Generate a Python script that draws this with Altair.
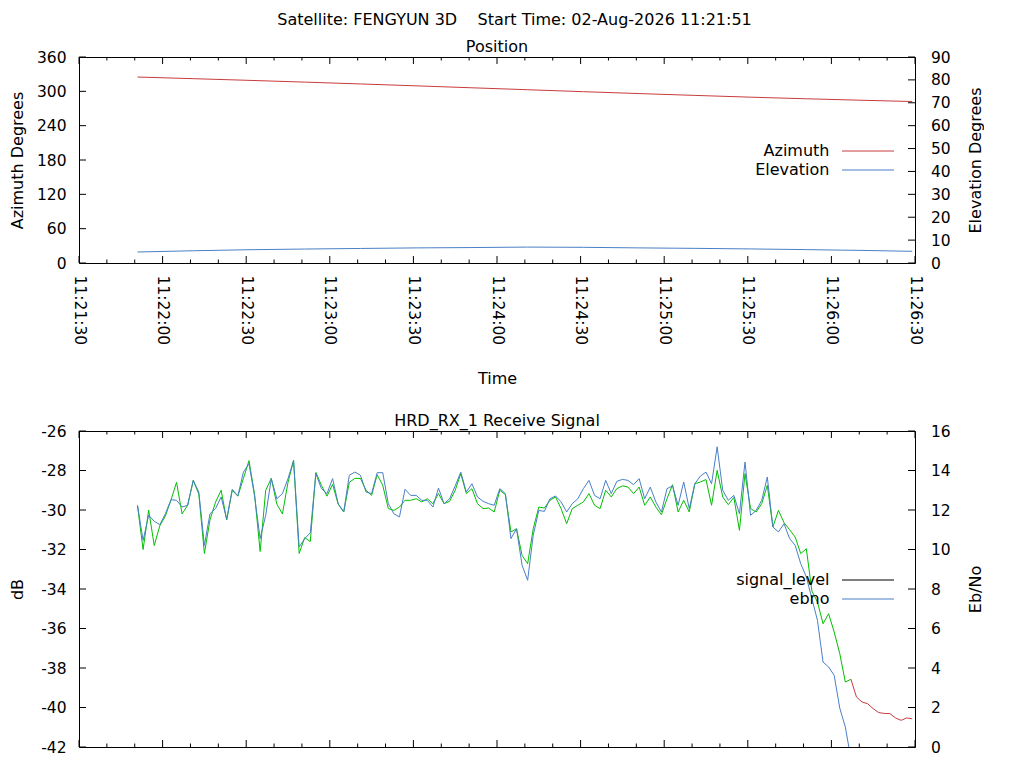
import altair as alt
import pandas as pd

# ---------------------------------------------------------------- data
suptitle = "Satellite: FENGYUN 3D\u00a0\u00a0\u00a0\u00a0Start Time: 02-Aug-2026 11:21:51"
pass_day = "2026-08-02"
axis_start = "11:21:30"     # left edge of both time axes
axis_seconds = 300          # ... right edge is 11:26:30

# position, seconds after 11:21:30
pos_sec = [21, 41, 61, 81, 101, 121, 141, 161, 181, 201, 221, 241, 261, 281, 299]
azimuth = [325.0, 322.1, 319.2, 316.1, 312.9, 309.6, 306.2, 302.8, 299.4, 296.1,
           292.9, 289.8, 287.0, 284.4, 282.2]
elevation = [4.8, 5.35, 5.8, 6.1, 6.35, 6.6, 6.75, 6.95, 6.85, 6.6,
             6.4, 6.15, 5.85, 5.5, 5.1]

# receive signal, one reading every 2 s starting 11:21:51
sig_sec = list(range(21, 300, 2))
signal_level = [
    -29.8, -32.0, -30.0, -31.8, -30.8, -30.3, -29.5, -28.6, -30.2, -29.75,
    -28.5, -29.2, -32.2, -30.5, -29.6, -29.0, -30.5, -29.0, -29.3, -28.4,
    -27.5, -29.2, -32.1, -29.0, -28.4, -29.7, -30.2, -28.6, -27.5, -32.2,
    -31.4, -31.6, -28.1, -28.75, -29.3, -28.7, -29.7, -30.1, -28.6, -28.4,
    -28.4, -29.0, -29.26, -28.21, -28.75, -29.93, -30.02, -29.85, -29.51, -29.51,
    -29.43, -29.59, -29.43, -29.68, -29.17, -29.68, -29.56, -29.0, -28.16, -29.17,
    -28.92, -29.68, -29.93, -29.9, -30.1, -29.0, -29.22, -31.11, -30.95, -32.3,
    -32.72, -30.95, -29.85, -29.9, -29.51, -29.34, -29.93, -30.69, -29.93, -29.76,
    -29.59, -29.17, -29.76, -29.93, -29.0, -29.34, -28.92, -28.78, -28.84, -29.17,
    -28.84, -29.76, -29.34, -29.85, -30.24, -29.43, -28.72, -30.1, -29.51, -30.1,
    -28.67, -28.58, -28.46, -29.76, -27.99, -29.34, -29.73, -29.36, -31.03, -28.16,
    -29.93, -30.1, -29.68, -28.75, -30.86, -30.02, -30.64, -31.0, -31.37, -32.21,
    -31.96, -34.1, -34.66, -35.76, -35.25, -36.18, -37.27, -38.71, -38.57, -39.47,
    -39.72, -39.81, -40.06, -40.26, -40.3, -40.31, -40.53, -40.65, -40.53, -40.57,
]
ebno = [
    12.24, 10.46, 11.73, 11.43, 11.26, 11.81, 12.52, 12.49, 12.15, 12.24,
    13.5, 12.91, 10.21, 11.81, 12.07, 12.66, 11.53, 13.05, 12.71, 13.92,
    14.35, 12.71, 10.55, 11.73, 13.59, 12.57, 12.83, 13.59, 14.51, 10.13,
    10.55, 10.85, 13.84, 13.08, 12.83, 13.59, 12.32, 11.9, 13.76, 13.92,
    13.76, 12.91, 12.83, 13.89, 13.89, 12.32, 11.81, 11.65, 13.05, 12.74,
    12.74, 12.49, 12.49, 12.15, 13.11, 12.32, 12.57, 13.22, 13.92, 12.91,
    13.33, 12.66, 12.44, 12.32, 12.24, 13.08, 12.83, 10.55, 11.05, 9.2,
    8.44, 10.72, 11.98, 11.93, 12.57, 12.71, 12.41, 11.9, 12.32, 12.57,
    13.08, 13.5, 12.74, 12.57, 13.5, 12.83, 13.45, 13.55, 13.5, 13.28,
    13.59, 12.57, 13.16, 12.41, 11.9, 13.08, 13.22, 12.24, 13.42, 12.07,
    13.33, 13.72, 13.92, 13.33, 15.2, 13.0, 12.49, 12.74, 11.81, 14.43,
    11.73, 11.98, 12.49, 13.67, 11.14, 10.89, 11.31, 10.55, 10.21, 9.28,
    8.61, 7.51, 6.41, 4.3, 4.05, 3.63, 1.97, 1.01, -0.59,
]
lock_lost_sec = 277   # signal_level turns red from here

az_ticks = list(range(0, 361, 60))
el_ticks = list(range(0, 91, 10))
db_ticks = list(range(-42, -25, 2))
ebno_ticks = list(range(0, 17, 2))

# ---------------------------------------------------------------- style
FONT = "DejaVu Sans"
FS = 16          # titles
LFS = 15.5       # tick labels
RED, BLUE, GREEN = "#c83c3c", "#4a7fc7", "#00c000"
W, H_TOP, H_BOT = 836, 206, 316
MAJOR, MINOR = 7, 3.5

T0 = pd.Timestamp(f"{pass_day} {axis_start}")


def stamp(secs):
    return [T0 + pd.Timedelta(seconds=int(s)) for s in secs]


def dt(s):
    t = T0 + pd.Timedelta(seconds=int(s))
    return alt.DateTime(year=t.year, month=t.month, date=t.day,
                        hours=t.hour, minutes=t.minute, seconds=t.second)


major_sec = list(range(0, axis_seconds + 1, 30))
minor_sec = [s for s in range(0, axis_seconds + 1, 10) if s % 30]
x_scale = alt.Scale(domain=[dt(0), dt(axis_seconds)], nice=False)


def x_ticks(h, x_enc):
    # gnuplot style ticks pointing into the plot, top and bottom
    out = []
    for secs, ln in [(major_sec, MAJOR), (minor_sec, MINOR)]:
        base = alt.Chart(pd.DataFrame({"time": stamp(secs)})).mark_rule(
            color="black", strokeWidth=1
        ).encode(x=x_enc)
        out.append(base.encode(y=alt.value(0), y2=alt.value(ln)))
        out.append(base.encode(y=alt.value(h), y2=alt.value(h - ln)))
    return out


def y_ticks(vals, domain, right):
    base = alt.Chart(pd.DataFrame({"v": vals})).mark_rule(
        color="black", strokeWidth=1
    ).encode(y=alt.Y("v:Q", scale=alt.Scale(domain=domain, nice=False, zero=False), axis=None))
    if right:
        return base.encode(x=alt.value(W), x2=alt.value(W - MAJOR))
    return base.encode(x=alt.value(0), x2=alt.value(MAJOR))


def y_axis(title, vals, h, right, expr=None):
    kw = dict(values=vals, orient="right" if right else "left", ticks=False, tickSize=0,
              domain=False, grid=False, labelPadding=15.5 if right else 13,
              title=title, titleAngle=270, titleBaseline="alphabetic",
              titleX=65 if right else -57, titleY=h / 2)
    if expr:
        kw["labelExpr"] = expr
    return alt.Axis(**kw)


def legend(y):
    # a long flat sample (custom path) and labels pushed to its left, like gnuplot's key
    return alt.Legend(orient="none", legendX=781, legendY=y, title=None,
                      symbolType="M-4,0H4", symbolSize=169, symbolStrokeWidth=1,
                      labelAlign="right", labelOffset=alt.ExprRef("-46.5"),
                      labelFontSize=FS, labelFont=FONT, labelColor="black",
                      rowPadding=3, padding=0)


# ---------------------------------------------------------------- position panel
pos = pd.DataFrame({"time": stamp(pos_sec), "az": azimuth, "el": elevation})
pos_color = alt.Color("series:N", scale=alt.Scale(domain=["Azimuth", "Elevation"], range=[RED, BLUE]),
                      legend=legend(86))

x_top = alt.X("time:T", scale=x_scale, axis=alt.Axis(
    values=[dt(s) for s in major_sec], format="%H:%M:%S", labelAngle=90,
    labelAlign="left", labelBaseline="middle", labelPadding=12, ticks=False,
    tickSize=0, domain=False, grid=False, labelFlush=False, labelOverlap=False,
    title="Time", titlePadding=26))

az_line = alt.Chart(pos).transform_calculate(series="'Azimuth'").mark_line(strokeWidth=1).encode(
    x=x_top,
    y=alt.Y("az:Q", scale=alt.Scale(domain=[0, 360], nice=False, zero=False),
            axis=y_axis("Azimuth Degrees", az_ticks, H_TOP, False)),
    color=pos_color,
)
el_line = alt.Chart(pos).transform_calculate(series="'Elevation'").mark_line(strokeWidth=1).encode(
    x=x_top,
    y=alt.Y("el:Q", scale=alt.Scale(domain=[0, 90], nice=False, zero=False),
            axis=y_axis("Elevation Degrees", el_ticks, H_TOP, True)),
    color=pos_color,
)

top = alt.layer(
    az_line, el_line, *x_ticks(H_TOP, x_top),
    y_ticks(az_ticks, [0, 360], False), y_ticks(el_ticks, [0, 90], True),
).resolve_scale(y="independent").properties(
    width=W, height=H_TOP,
    title=alt.TitleParams("Position", frame="group", anchor="middle", offset=-5),
)

# ---------------------------------------------------------------- receive signal panel
sig = pd.DataFrame({"time": stamp(sig_sec), "sec": sig_sec, "db": signal_level})
eb = pd.DataFrame({"time": stamp(sig_sec[:len(ebno)]), "ebno": ebno})

# the time labels of this panel fall below the 768 px page in the reference
x_bot = alt.X("time:T", scale=x_scale, axis=alt.Axis(
    values=[dt(s) for s in major_sec], labels=False, ticks=False, tickSize=0,
    domain=False, grid=False, title=None))
db_scale = alt.Scale(domain=[-42, -26], nice=False, zero=False)

locked = alt.Chart(sig).transform_filter(f"datum.sec <= {lock_lost_sec}").mark_line(
    strokeWidth=1, color=GREEN, clip=True
).encode(
    x=x_bot,
    y=alt.Y("db:Q", scale=db_scale,
            axis=y_axis("dB", db_ticks, H_BOT, False, "'' + datum.value")),
)
lost = alt.Chart(sig).transform_filter(f"datum.sec >= {lock_lost_sec}").mark_line(
    strokeWidth=1, color=RED, clip=True
).encode(
    x=x_bot,
    y=alt.Y("db:Q", scale=db_scale, axis=None),
)
eb_line = alt.Chart(eb).transform_calculate(series="'ebno'").mark_line(
    strokeWidth=1, clip=True
).encode(
    x=x_bot,
    y=alt.Y("ebno:Q", scale=alt.Scale(domain=[0, 16], nice=False, zero=False),
            axis=y_axis("Eb/No", ebno_ticks, H_BOT, True)),
    color=alt.Color("series:N", scale=alt.Scale(domain=["signal_level", "ebno"], range=["black", BLUE]),
                    legend=legend(141)),
)

bottom = alt.layer(
    locked, lost, eb_line, *x_ticks(H_BOT, x_bot),
    y_ticks(db_ticks, [-42, -26], False), y_ticks(ebno_ticks, [0, 16], True),
).resolve_scale(y="independent").properties(
    width=W, height=H_BOT,
    title=alt.TitleParams("HRD_RX_1 Receive Signal", frame="group", anchor="middle", offset=-5),
)

chart = alt.vconcat(top, bottom, spacing=24).resolve_scale(color="independent").properties(
    title=alt.TitleParams(suptitle, anchor="middle", dx=18.5, offset=11),
    padding={"left": 0, "top": 3, "right": 0, "bottom": 0},
).configure(font=FONT).configure_view(stroke="black", strokeWidth=1).configure_axis(
    labelFont=FONT, titleFont=FONT, labelFontSize=LFS, titleFontSize=FS,
    titleFontWeight="normal", labelColor="black", titleColor="black",
).configure_title(font=FONT, fontSize=FS, fontWeight="normal", color="black")

chart.save("out.html", embed_options={"renderer": "svg", "actions": False})
